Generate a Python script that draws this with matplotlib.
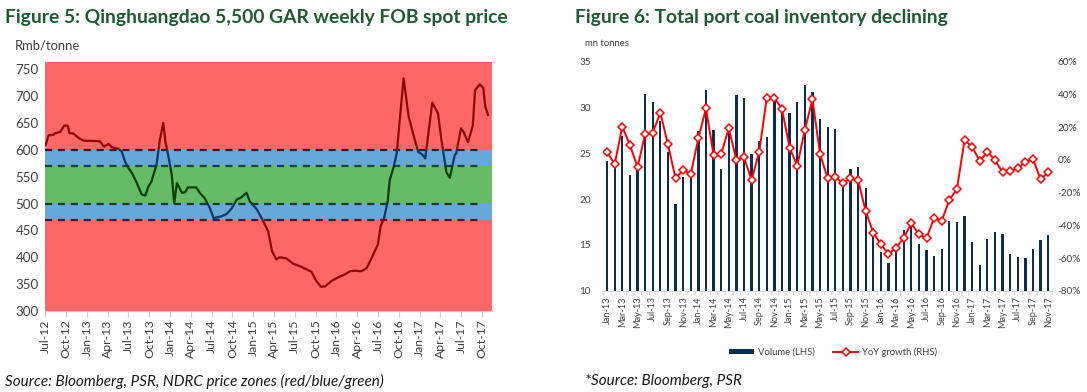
import matplotlib
matplotlib.use("Agg")
import matplotlib.pyplot as plt
import matplotlib.dates as mdates
import matplotlib.transforms as mtransforms
from matplotlib.patches import Rectangle
from matplotlib.lines import Line2D
from matplotlib.patches import Patch
import pandas as pd
import numpy as np

plt.rcParams['font.family'] = ['Lato', 'DejaVu Sans']

# ---------------- Data: Figure 5 (weekly FOB spot price, Rmb/tonne) ----------------
price_dates = [
    "2012-07-02", "2012-07-15", "2012-08-05", "2012-08-13", "2012-09-03", "2012-09-22",
    "2012-10-07", "2012-10-15", "2012-11-02", "2012-11-24", "2012-12-16", "2013-02-25",
    "2013-03-15", "2013-04-04", "2013-04-19", "2013-05-16", "2013-06-01", "2013-06-16",
    "2013-07-01", "2013-07-16", "2013-08-07", "2013-08-28", "2013-09-13", "2013-09-27",
    "2013-10-10", "2013-11-01", "2013-11-16", "2013-12-01", "2013-12-10", "2013-12-22",
    "2014-01-07", "2014-01-18", "2014-01-30", "2014-02-21", "2014-03-07", "2014-03-19",
    "2014-04-25", "2014-05-10", "2014-06-01", "2014-06-23", "2014-07-10", "2014-08-13",
    "2014-09-07", "2014-09-28", "2014-10-19", "2014-11-10", "2014-12-02", "2014-12-16",
    "2015-01-16", "2015-02-06", "2015-02-27", "2015-03-07", "2015-03-24", "2015-04-12",
    "2015-04-26", "2015-05-25", "2015-06-25", "2015-08-01", "2015-09-13", "2015-10-04",
    "2015-10-25", "2015-11-13", "2015-12-10", "2016-01-10", "2016-02-06", "2016-03-01",
    "2016-03-22", "2016-04-19", "2016-05-13", "2016-06-04", "2016-07-01", "2016-07-13",
    "2016-07-28", "2016-08-13", "2016-08-22", "2016-09-07", "2016-09-22", "2016-10-07",
    "2016-10-22", "2016-11-13", "2016-12-04", "2016-12-25", "2017-01-10", "2017-01-25",
    "2017-02-07", "2017-02-25", "2017-03-22", "2017-04-07", "2017-04-28", "2017-05-13",
    "2017-06-04", "2017-06-10", "2017-07-01", "2017-07-13", "2017-08-01", "2017-08-22",
    "2017-09-01", "2017-09-22", "2017-10-07", "2017-10-16", "2017-10-28",
]
price_values = [
    609, 627, 628, 631, 633, 645,
    645, 631, 630, 622, 617, 616,
    606, 611, 605, 602, 597, 578,
    566, 557, 538, 517, 515, 532,
    541, 572, 619, 650, 616, 591,
    554, 501, 538, 520, 521, 530,
    530, 520, 510, 492, 473, 476,
    481, 491, 507, 512, 520, 504,
    489, 473, 455, 448, 411, 396,
    400, 398, 388, 382, 373, 356,
    345, 346, 356, 363, 368, 374,
    375, 374, 380, 399, 424, 458,
    473, 504, 544, 566, 594, 665,
    733, 662, 628, 596, 592, 584,
    628, 688, 668, 616, 558, 548,
    591, 593, 640, 633, 614, 645,
    711, 722, 715, 680, 665,
]
zone_bounds = [470, 500, 570, 600]   # NDRC price zones

# ---------------- Data: Figure 6 (monthly port coal inventory) ----------------
inv_months = pd.date_range("2013-01-01", "2017-11-01", freq="MS")
inv_volume = [
    24.2, 24.3, 26.9, 22.6, 23.6, 31.5, 30.6, 28.5, 25.1, 19.5,
    22.4, 22.5, 27.4, 31.9, 27.5, 23.3, 27.4, 31.4, 31.0, 24.9,
    26.4, 26.8, 31.0, 29.7, 29.4, 30.6, 32.5, 31.7, 28.8, 27.9,
    27.7, 21.5, 23.3, 23.5, 21.2, 16.8, 14.2, 13.0, 14.7, 16.6,
    17.0, 15.1, 14.4, 13.8, 14.6, 17.6, 17.5, 18.2, 15.3, 12.8,
    15.6, 16.4, 16.2, 14.0, 13.7, 13.6, 14.6, 15.5, 16.1,
]
inv_yoy = [
    4.6, -2.5, 20.3, 9.1, -4.4, 15.6, 16.6, 28.8, 9.5, -11.3,
    -6.2, -8.6, 13.2, 31.5, 3.0, 3.6, 19.3, -0.1, 1.6, -12.3,
    5.0, 38.0, 38.0, 30.9, 7.4, -3.6, 18.3, 37.0, 3.6, -11.3,
    -10.7, -13.9, -11.3, -12.3, -31.3, -44.5, -51.6, -57.5, -53.7, -47.6,
    -38.8, -45.5, -47.9, -35.4, -37.2, -24.5, -17.8, 12.1, 8.0, -0.7,
    5.0, -0.1, -7.6, -6.8, -5.2, -1.1, 0.5, -11.9, -7.6,
]

# ---------------- Styling ----------------
RED_ZONE = "#ff6666"
BLUE_ZONE = "#66a8da"
GREEN_ZONE = "#66bb66"
LINE_RED = "#8a0a0a"
LINE_BLUE = "#0c3868"
LINE_GREEN = "#0b400b"
TITLE_COLOR = "#1e5a32"
TXT = "#404040"

fig = plt.figure(figsize=(10.87, 3.92), dpi=100)

# ======================= Figure 5 =======================
ax1 = fig.add_axes([44.5 / 1087, 1 - 311 / 392, (491.7 - 44.5) / 1087, (311 - 61.7) / 392])
ax1.set_facecolor(RED_ZONE)
d = pd.to_datetime(price_dates)
ax1.axhspan(zone_bounds[0], zone_bounds[1], color=BLUE_ZONE, lw=0, zorder=0.5)
ax1.axhspan(zone_bounds[1], zone_bounds[2], color=GREEN_ZONE, lw=0, zorder=0.5)
ax1.axhspan(zone_bounds[2], zone_bounds[3], color=BLUE_ZONE, lw=0, zorder=0.5)

x0 = pd.Timestamp("2012-06-27")
x1 = pd.Timestamp("2017-11-13")
ax1.set_xlim(x0, x1)
ax1.set_ylim(300, 764)

dash_colors = {600: "#22223a", 570: "#1b4a22", 500: "#1f3445", 470: "#5a1418"}
for yv in zone_bounds:
    ax1.plot([pd.Timestamp("2012-07-01"), pd.Timestamp("2017-10-01")], [yv, yv],
             ls=(0, (3.2, 2.6)), lw=1.6, color=dash_colors[yv], zorder=2)

blend = mtransforms.blended_transform_factory(ax1.transAxes, ax1.transData)
zones = [
    (zone_bounds[3], 1000, LINE_RED),
    (zone_bounds[2], zone_bounds[3], LINE_BLUE),
    (zone_bounds[1], zone_bounds[2], LINE_GREEN),
    (zone_bounds[0], zone_bounds[1], LINE_BLUE),
    (0, zone_bounds[0], LINE_RED),
]
for lo, hi, col in zones:
    ln, = ax1.plot(d, price_values, color=col, lw=1.6, zorder=3, solid_joinstyle="round")
    rect = Rectangle((0, lo), 1, hi - lo, transform=blend, facecolor="none", edgecolor="none")
    ln.set_clip_path(rect)

ax1.set_yticks(np.arange(300, 751, 50))
qticks = pd.date_range("2012-07-01", "2017-10-01", freq="QS-JAN")
ax1.set_xticks(qticks)
ax1.xaxis.set_major_formatter(mdates.DateFormatter("%b-%y"))
ax1.tick_params(axis="x", rotation=90, labelsize=8.8, colors=TXT, length=4, width=0.8,
                color="#d0d0d0", pad=2)
ax1.tick_params(axis="y", length=0, labelsize=9.6, colors=TXT, pad=4)
for s in ["top", "right", "left"]:
    ax1.spines[s].set_visible(False)
ax1.spines["bottom"].set_color("#d0d0d0")
ax1.spines["bottom"].set_linewidth(0.8)

fig.text(5 / 1087, 1 - 17 / 392, "Figure 5: Qinghuangdao 5,500 GAR weekly FOB spot price",
         fontsize=13.9, fontweight="bold", color=TITLE_COLOR, va="center", ha="left")
fig.text(15 / 1087, 1 - 46 / 392, "Rmb/tonne", fontsize=9.4, color=TXT, va="center", ha="left")
fig.text(5 / 1087, 1 - 381 / 392, "Source: Bloomberg, PSR, NDRC price zones (red/blue/green)",
         fontsize=11.0, style="italic", color="#1a1a1a", va="center", ha="left")

# ======================= Figure 6 =======================
ax2 = fig.add_axes([603.3 / 1087, 1 - 290.8 / 392, (1052 - 603.3) / 1087, (290.8 - 61.7) / 392])
xpos = np.arange(len(inv_months))
ax2.bar(xpos, inv_volume, width=0.3, color="#0b2d4f", zorder=2)
ax2.set_xlim(-0.5, len(inv_months) - 0.5)
ax2.set_ylim(10, 35)
ax2.set_yticks(np.arange(10, 36, 5))
ax2.set_xticks(xpos[::2])
ax2.set_xticklabels([m.strftime("%b-%y") for m in inv_months[::2]], rotation=90)
ax2.set_xticks(np.arange(-0.5, len(inv_months), 1), minor=True)
ax2.tick_params(axis="x", which="major", length=0, labelsize=6.6, colors=TXT, pad=4)
ax2.tick_params(axis="x", which="minor", length=3, color="#d9d9d9", width=0.7)
ax2.tick_params(axis="y", length=0, labelsize=7.2, colors=TXT, pad=9)
for s in ["top", "right", "left"]:
    ax2.spines[s].set_visible(False)
ax2.spines["bottom"].set_color("#d9d9d9")
ax2.spines["bottom"].set_linewidth(0.7)

ax3 = ax2.twinx()
ax3.plot(xpos, inv_yoy, color="#ff0000", lw=1.4, marker="D", markersize=4.2,
         markerfacecolor="white", markeredgecolor="#ff0000", markeredgewidth=1.1, zorder=3)
ax3.set_ylim(-80, 60)
ax3.set_yticks(np.arange(-80, 61, 20))
ax3.set_yticklabels([f"{v}%" for v in range(-80, 61, 20)])
ax3.tick_params(axis="y", length=0, labelsize=7.2, colors=TXT, pad=4)
for s in ["top", "right", "left", "bottom"]:
    ax3.spines[s].set_visible(False)

fig.text(575 / 1087, 1 - 17 / 392, "Figure 6: Total port coal inventory declining",
         fontsize=13.9, fontweight="bold", color=TITLE_COLOR, va="center", ha="left")
fig.text(585 / 1087, 1 - 44 / 392, "mn tonnes", fontsize=6.8, color=TXT, va="center", ha="left")
fig.text(585 / 1087, 1 - 381 / 392, "*Source: Bloomberg, PSR",
         fontsize=11.0, style="italic", color="#1a1a1a", va="center", ha="left")

handles = [
    Patch(facecolor="#0b2d4f", edgecolor="none", label="Volume (LHS)"),
    Line2D([0], [0], color="#ff0000", lw=1.4, marker="D", markersize=4.2,
           markerfacecolor="white", markeredgecolor="#ff0000", markeredgewidth=1.1,
           label="YoY growth (RHS)"),
]
fig.legend(handles=handles, loc="center", bbox_to_anchor=(833 / 1087, 1 - 352 / 392),
           ncol=2, frameon=False, fontsize=6.8, handlelength=2.6, handleheight=0.5,
           columnspacing=2.0, handletextpad=0.4, labelcolor=TXT)

fig.savefig("out.png", dpi=100)
